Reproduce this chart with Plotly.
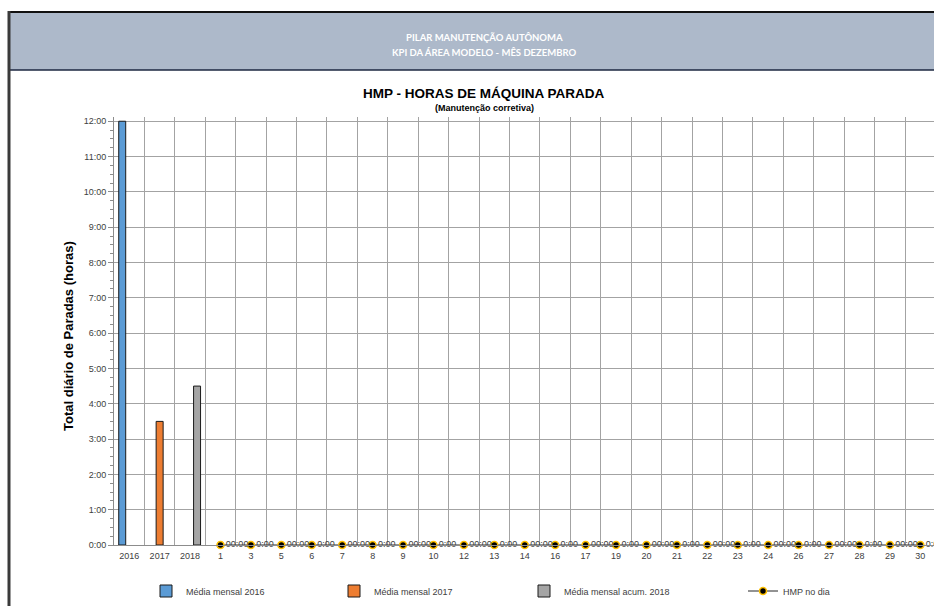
import plotly.graph_objects as go

# ---------------- data ----------------
year_categories = ["2016", "2017", "2018"]
day_categories = ["1", "3", "5", "6", "7", "8", "9", "10", "12", "13", "14", "16",
                  "17", "19", "20", "21", "22", "23", "24", "26", "27", "28", "29", "30"]
media_2016 = [12.0]
media_2017 = [3.5]
media_2018 = [4.5]
hmp_no_dia = [0, 0, 0, 0, 0, 0, 0, 0, 0, 0, 0, 0,
              0, 0, 0, 0, 0, 0, 0, 0, 0, 0, 0, 0]
hmp_labels = ["00:00", "0:00", "00:00", "0:00", "00:00", "0:00", "00:00", "0:00",
              "00:00", "0:00", "00:00", "0:00", "00:00", "0:00", "00:00", "0:00",
              "00:00", "0:00", "00:00", "0:00", "00:00", "0:00", "00:00", "0:00"]
y_tick_vals = [0, 1, 2, 3, 4, 5, 6, 7, 8, 9, 10, 11, 12]
y_tick_text = ["0:00", "1:00", "2:00", "3:00", "4:00", "5:00", "6:00", "7:00",
               "8:00", "9:00", "10:00", "11:00", "12:00"]
y_minor_vals = [q / 4 for q in range(0, 49)]

all_categories = year_categories + day_categories

# ---------------- geometry helpers ----------------
W, H = 934, 606
L, R, T, B = 114, 0, 117, 61
PW, PH = W - L - R, H - T - B


def px(x):
    return (x - L) / PW


def py(y):
    return (H - B - y) / PH


ARIAL = "Liberation Sans, Arial, sans-serif"
TXT = "#404040"
GRID = "#a3a3a3"
BAR_W = 0.23

fig = go.Figure()

fig.add_trace(go.Bar(x=["2016"], y=media_2016, name="Média mensal 2016",
                     width=BAR_W, offset=-0.345,
                     marker=dict(color="#5b9bd5", line=dict(color="#1a1a1a", width=1)),
                     legend="legend"))
fig.add_trace(go.Bar(x=["2017"], y=media_2017, name="Média mensal 2017",
                     width=BAR_W, offset=-0.115,
                     marker=dict(color="#ed7d31", line=dict(color="#1a1a1a", width=1)),
                     legend="legend2"))
fig.add_trace(go.Bar(x=["2018"], y=media_2018, name="Média mensal acum. 2018",
                     width=BAR_W, offset=0.115,
                     marker=dict(color="#a5a5a5", line=dict(color="#1a1a1a", width=1)),
                     legend="legend3"))
fig.add_trace(go.Scatter(x=day_categories, y=hmp_no_dia, name="HMP no dia",
                         mode="lines+markers+text", text=hmp_labels,
                         textposition="middle right",
                         textfont=dict(family=ARIAL, size=9, color=TXT),
                         line=dict(color="#262626", width=1),
                         marker=dict(size=7, color="black",
                                     line=dict(color="#ffc000", width=1.6)),
                         cliponaxis=False, legend="legend4"))


def leg(x):
    return dict(x=px(x), y=py(591), xanchor="left", yanchor="middle",
                orientation="h", bgcolor="rgba(0,0,0,0)",
                font=dict(family=ARIAL, size=9, color=TXT),
                itemwidth=30, tracegroupgap=0)


fig.update_layout(
    width=W, height=H,
    margin=dict(l=L, r=R, t=T, b=B, pad=0),
    paper_bgcolor="white", plot_bgcolor="white",
    barmode="overlay",
    showlegend=True,
    legend=leg(146), legend2=leg(334), legend3=leg(524), legend4=leg(743),
    xaxis=dict(type="category", categoryorder="array", categoryarray=all_categories,
               range=[-0.5, 26.45], tickson="boundaries", showgrid=True,
               gridcolor=GRID, gridwidth=1.3, showline=True, linecolor="#8c8c8c",
               linewidth=1, ticks="", ticklabelstandoff=2,
               tickfont=dict(family=ARIAL, size=9, color=TXT), zeroline=False),
    yaxis=dict(range=[0, 12.12], tickmode="array", tickvals=y_tick_vals,
               ticktext=y_tick_text, showgrid=True, gridcolor=GRID, gridwidth=1.3,
               showline=True, linecolor="#8c8c8c", linewidth=1,
               ticks="outside", ticklen=5, tickcolor="#8c8c8c",
               minor=dict(tickmode="array", tickvals=y_minor_vals, ticks="outside",
                          ticklen=3, tickcolor="#8c8c8c", showgrid=False),
               tickfont=dict(family=ARIAL, size=9, color=TXT), zeroline=False),
    shapes=[
        dict(type="rect", xref="paper", yref="paper", x0=px(9), x1=px(940),
             y0=py(70), y1=py(12), fillcolor="#adb9ca", line=dict(width=0),
             layer="below"),
        dict(type="line", xref="paper", yref="paper", x0=px(8), x1=px(940),
             y0=py(12), y1=py(12), line=dict(color="#111111", width=2)),
        dict(type="line", xref="paper", yref="paper", x0=px(9), x1=px(940),
             y0=py(70), y1=py(70), line=dict(color="#1c2740", width=1.5)),
        dict(type="line", xref="paper", yref="paper", x0=px(9), x1=px(9),
             y0=py(11), y1=py(612), line=dict(color="#3a3a3a", width=3)),
    ],
    annotations=[
        dict(text="<b>PILAR MANUTENÇÃO AUTÔNOMA</b>", xref="paper", yref="paper",
             x=px(484), y=py(38), showarrow=False, xanchor="center", yanchor="middle",
             font=dict(family="Lato, Open Sans, sans-serif", size=9.5, color="white")),
        dict(text="<b>KPI DA ÁREA MODELO - MÊS DEZEMBRO</b>", xref="paper", yref="paper",
             x=px(484), y=py(52), showarrow=False, xanchor="center", yanchor="middle",
             font=dict(family="Lato, Open Sans, sans-serif", size=9.5, color="white")),
        dict(text="<b>HMP - HORAS DE MÁQUINA PARADA</b>", xref="paper", yref="paper",
             x=px(484), y=py(94), showarrow=False, xanchor="center", yanchor="middle",
             font=dict(family=ARIAL, size=13.5, color="black")),
        dict(text="<b>(Manutenção corretiva)</b>", xref="paper", yref="paper",
             x=px(484), y=py(108), showarrow=False, xanchor="center", yanchor="middle",
             font=dict(family=ARIAL, size=9, color="black")),
        dict(text="<b>Total diário de Paradas (horas)</b>", xref="paper", yref="paper",
             x=px(68), y=py(336), showarrow=False, xanchor="center", yanchor="middle",
             textangle=-90, font=dict(family=ARIAL, size=13, color="black")),
    ],
)

fig.write_html("out.html", config={"displayModeBar": False})

# remove the default page margin so the figure sits at the window's top-left corner
with open("out.html", "r", encoding="utf-8") as f:
    html = f.read()
html = html.replace("<head>", "<head><style>html,body{margin:0;padding:0;overflow:hidden;}</style>", 1)
with open("out.html", "w", encoding="utf-8") as f:
    f.write(html)
